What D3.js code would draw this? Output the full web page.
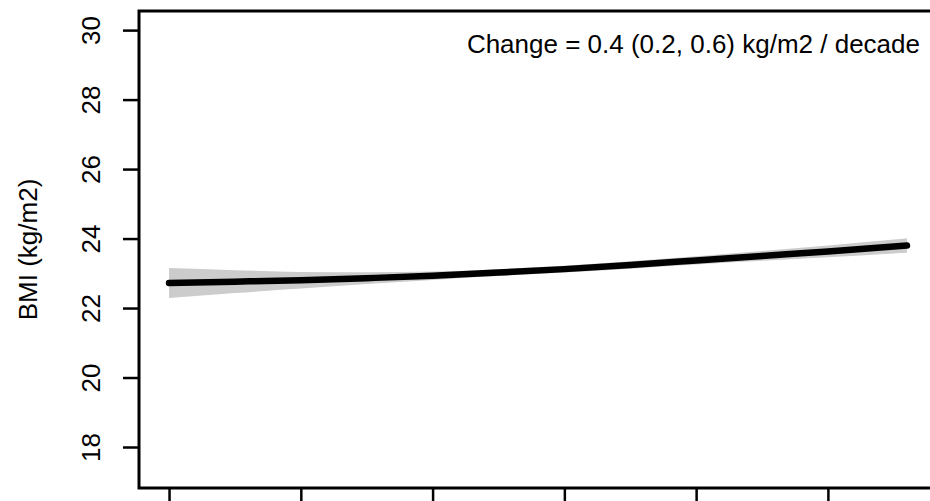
<!DOCTYPE html>
<html>
<head>
<meta charset="utf-8">
<script src="https://cdn.jsdelivr.net/npm/d3@7"></script>
<style>
  html, body { margin: 0; padding: 0; background: #fff; overflow: hidden; }
  text { font-family: "Liberation Sans", Arial, Helvetica, sans-serif; }
</style>
</head>
<body>
<svg id="chart" width="930" height="501"></svg>
<script>
// ---- data ----
const years = [1960, 1965, 1970, 1975, 1980, 1985, 1990, 1995, 2000, 2005, 2010, 2015, 2016];
const fit   = [22.72, 22.76, 22.80, 22.86, 22.93, 23.02, 23.12, 23.24, 23.37, 23.50, 23.63, 23.77, 23.80];
const lower = [22.29, 22.43, 22.56, 22.69, 22.81, 22.92, 23.02, 23.13, 23.25, 23.36, 23.46, 23.57, 23.59];
const upper = [23.15, 23.09, 23.04, 23.03, 23.05, 23.12, 23.22, 23.35, 23.49, 23.64, 23.80, 23.97, 24.01];
const xTicks = [1960, 1970, 1980, 1990, 2000, 2010];
const yTicks = [18, 20, 22, 24, 26, 28, 30];
const yLabel = "BMI (kg/m2)";
const annotation = "Change = 0.4 (0.2, 0.6) kg/m2 / decade";

// ---- layout ----
const svg = d3.select("#chart");
const pL = 139, pT = 11, pB = 488, pR = 937;
const FS = 26;

const x = d3.scaleLinear().domain([1957.72, 2018.28]).range([pL, pR]);
const y = d3.scaleLinear().domain([16.82, 30.55]).range([pB, pT]);

const rows = years.map((yr, i) => ({ yr, fit: fit[i], lo: lower[i], hi: upper[i] }));

// ribbon
svg.append("path")
  .datum(rows)
  .attr("fill", "#cccccc")
  .attr("stroke", "none")
  .attr("d", d3.area().curve(d3.curveMonotoneX)
    .x(d => x(d.yr)).y0(d => y(d.lo)).y1(d => y(d.hi)));

// fitted line
svg.append("path")
  .datum(rows)
  .attr("fill", "none")
  .attr("stroke", "#000")
  .attr("stroke-width", 6.5)
  .attr("stroke-linecap", "round")
  .attr("d", d3.line().curve(d3.curveMonotoneX).x(d => x(d.yr)).y(d => y(d.fit)));

// y axis
const yAxis = svg.append("g")
  .attr("transform", `translate(${pL},0)`)
  .call(d3.axisLeft(y).tickValues(yTicks).tickSize(16).tickPadding(8).tickFormat(d3.format("d")));
yAxis.select(".domain").remove();
yAxis.selectAll(".tick line").attr("stroke", "#000").attr("stroke-width", 2.5);
yAxis.selectAll(".tick text")
  .attr("font-size", FS)
  .attr("fill", "#000")
  .attr("text-anchor", "middle")
  .attr("x", 0).attr("dy", 0)
  .attr("transform", "translate(-39,0) rotate(-90)");

// x axis (tick labels fall below the visible area)
const xAxis = svg.append("g")
  .attr("transform", `translate(0,${pB})`)
  .call(d3.axisBottom(x).tickValues(xTicks).tickSize(16).tickFormat(""));
xAxis.select(".domain").remove();
xAxis.selectAll(".tick line").attr("stroke", "#000").attr("stroke-width", 2.5);

// box
svg.append("rect")
  .attr("x", pL).attr("y", pT)
  .attr("width", pR - pL).attr("height", pB - pT)
  .attr("fill", "none").attr("stroke", "#000").attr("stroke-width", 3);

// y label
svg.append("text")
  .attr("transform", `translate(37,${(pT + pB) / 2}) rotate(-90)`)
  .attr("text-anchor", "middle")
  .attr("font-size", FS)
  .attr("fill", "#000")
  .text(yLabel);

// annotation
svg.append("text")
  .attr("x", 920).attr("y", 53)
  .attr("text-anchor", "end")
  .attr("font-size", FS)
  .attr("fill", "#000")
  .text(annotation);
</script>
</body>
</html>
